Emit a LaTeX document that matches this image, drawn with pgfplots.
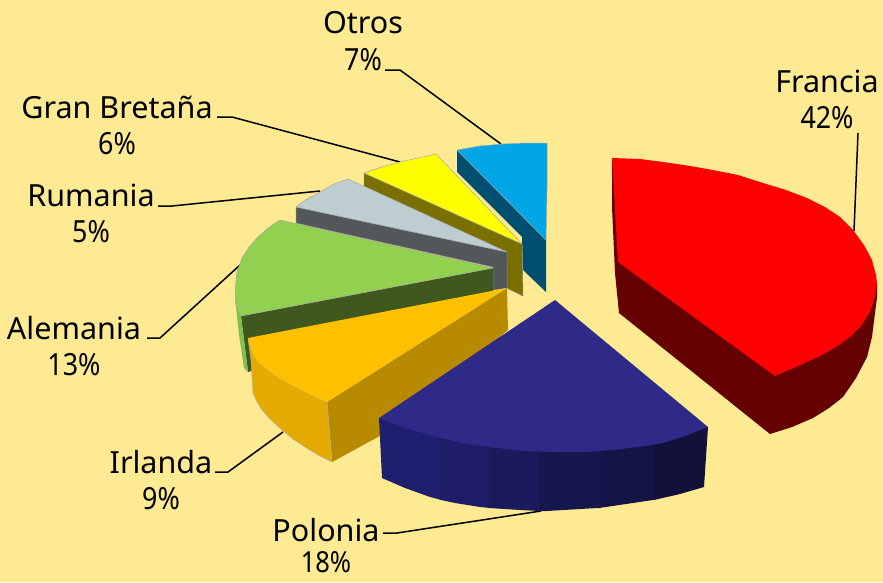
\documentclass[border=0pt]{standalone}
\usepackage{fontspec}
\setmainfont{Noto Sans}
\usepackage{pgfplots}
\pgfplotsset{compat=1.18}
\definecolor{bg}{HTML}{FEEA93}
\newcommand{\pc}[1]{\scalebox{0.88}[1]{#1}}
\begin{document}
\begin{tikzpicture}
\begin{axis}[scale only axis,width=883pt,height=582pt,xmin=0,xmax=883,ymin=0,ymax=582,y dir=reverse,axis lines=none,clip=false,
  every axis plot/.append style={line width=0.5pt,line join=round}]
\addplot[fill=bg,draw=none] coordinates {(0,0)(883,0)(883,582)(0,582)} --cycle;
% leader lines
\addplot[black,line width=1.5pt] coordinates {(858,133)(854,231)};
\addplot[black,line width=1.5pt] coordinates {(385,70)(400,70)(501,144)};
\addplot[black,line width=1.5pt] coordinates {(217,117)(232,117)(400,162)};
\addplot[black,line width=1.5pt] coordinates {(158,206)(172,206)(320,191)};
\addplot[black,line width=1.5pt] coordinates {(147,338)(160,338)(240,265)};
\addplot[black,line width=1.5pt] coordinates {(215,472)(228,472)(283,432)};
\addplot[black,line width=1.5pt] coordinates {(383,533)(397,533)(541,511)};
% Otros
\addplot[fill={rgb,255:red,0;green,79;blue,112},draw=none] coordinates {(457,150)(546,240)(546,292)(523,270)(522,237)(457,172)} --cycle;
\addplot[fill={rgb,255:red,0;green,166;blue,230},draw=gray!70] coordinates {(457,150)(480,146)(503,144)(526,143)(547,143)(547,190)(546,240)} --cycle;
% Gran Bretana
\addplot[fill={rgb,255:red,122;green,112;blue,0},draw=gray] coordinates {(364,173)(522,244)(523,296)(507,288)(507,252)(364,186)} --cycle;
\addplot[fill={rgb,255:red,255;green,255;blue,0},draw=gray!70] coordinates {(436,154)(522,244)(364,173)(382,167)(400,162)(418,158)} --cycle;
% Rumania
\addplot[fill={rgb,255:red,82;green,88;blue,90},draw=gray] coordinates {(296,207)(507,252)(507,288)(493,290)(493,267)(296,223)} --cycle;
\addplot[fill={rgb,255:red,190;green,205;blue,208},draw=gray!70] coordinates {(348,179)(507,252)(296,207)(307,199)(320,192)(334,184)} --cycle;
% Alemania
\addplot[fill={rgb,255:red,62;green,88;blue,30},draw=none] coordinates {(241,316)(493,268)(493,300)(251,371)(248,372)} --cycle;
\addplot[fill={rgb,255:red,130;green,190;blue,80},draw=none] coordinates {(235,297)(241,316)(248,372)(244,368)(239,335)} --cycle;
\addplot[fill={rgb,255:red,146;green,208;blue,80},draw=gray!70] coordinates {(280,220)(493,268)(241,316)(236,305)(235,290)(237,272)(242,258)(249,247)(257,238)(268,228)} --cycle;
% Irlanda
\addplot[fill={rgb,255:red,184;green,138;blue,0},draw=none] coordinates {(327,402)(507,288)(508,330)(378,437)(332,462)} --cycle;
\addplot[fill={rgb,255:red,228;green,170;blue,0},draw=gray!60] coordinates {(248,338)(251,360)(253,393)(257,402)(262,410)(271,420)(282,430)(293,439)(305,447)(318,455)(332,462)(327,402)(309,394)(292,385)(279,378)(268,370)(259,363)(253,355)} --cycle;
\addplot[fill={rgb,255:red,255;green,192;blue,0},draw=none] coordinates {(507,288)(327,402)(309,394)(292,385)(279,378)(268,370)(259,363)(253,355)(248,338)} --cycle;
% Francia
\addplot[fill={rgb,255:red,100;green,0;blue,0},draw=none] coordinates {(612,158)(612,207)(615,273)(619,313)(770,434)(792,427)(813,418)(829,408)(843,397)(856,378)(867,357)(872,337)(877,297)(877,283)} --cycle;
\addplot[fill=red,draw=none] coordinates {(612,158)(640,159)(663,162)(690,166)(713,170)(738,175)(763,183)(786,190)(807,198)(825,207)(840,217)(853,230)(864,245)(872,260)(876,275)(877,283)(875,297)(870,312)(861,326)(850,337)(836,347)(820,356)(798,366)(775,376)(618,262)} --cycle;
% Polonia
\addplot[fill={rgb,255:red,31;green,31;blue,112},draw=none] coordinates {(379,418)(382,478)(405,488)(430,497)(440,499.5)(440,432)(405,425)} --cycle;
\addplot[fill={rgb,255:red,29;green,29;blue,104},draw=none] coordinates {(439,432)(439,499.5)(455,503)(480,507)(490,508)(490,440)} --cycle;
\addplot[fill={rgb,255:red,26;green,26;blue,92},draw=none] coordinates {(489,440)(489,508)(520,510)(540,511)(540,445)} --cycle;
\addplot[fill={rgb,255:red,23;green,23;blue,80},draw=none] coordinates {(539,445)(539,511)(547,511)(597,508)(600,508)(600,445)} --cycle;
\addplot[fill={rgb,255:red,20;green,20;blue,70},draw=none] coordinates {(599,445)(599,508)(653,500)(655,499)(655,438)} --cycle;
\addplot[fill={rgb,255:red,17;green,17;blue,60},draw=none] coordinates {(654,438)(654,500)(680,494)(704,487)(708,427)(685,430)} --cycle;
\addplot[fill={rgb,255:red,46;green,42;blue,136},draw=none] coordinates {(555,300)(708,427)(685,436)(663,443)(638,447)(613,450)(585,452)(555,452)(525,451)(497,448)(467,444)(437,437)(405,428)(379,418)} --cycle;
% labels
\tikzset{lab/.style={font=\fontsize{30.5}{36}\selectfont,text=black,inner sep=0pt,anchor=center}}
\node[lab] at (axis cs:827,81) {Francia};
\node[lab] at (axis cs:827,118) {\pc{42\%}};
\node[lab] at (axis cs:363,23) {Otros};
\node[lab] at (axis cs:363,60) {\pc{7\%}};
\node[lab] at (axis cs:117,107) {Gran Bretaña};
\node[lab] at (axis cs:117,144) {\pc{6\%}};
\node[lab] at (axis cs:91,195) {Rumania};
\node[lab] at (axis cs:91,232) {\pc{5\%}};
\node[lab] at (axis cs:74,328) {Alemania};
\node[lab] at (axis cs:74,365) {\pc{13\%}};
\node[lab] at (axis cs:161,462) {Irlanda};
\node[lab] at (axis cs:161,499) {\pc{9\%}};
\node[lab] at (axis cs:326,530) {Polonia};
\node[lab,font=\fontsize{29}{34}\selectfont] at (axis cs:326,562) {\pc{18\%}};
\end{axis}
\end{tikzpicture}
\end{document}
